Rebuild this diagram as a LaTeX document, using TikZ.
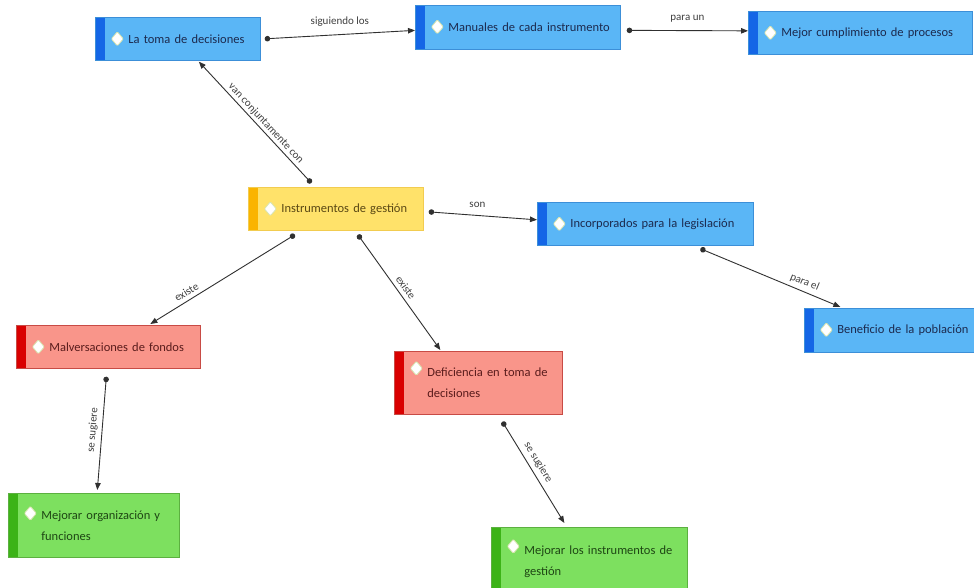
\documentclass[tikz,border=0pt]{standalone}
\usepackage{fontspec}
\setmainfont{Carlito}
\usetikzlibrary{arrows.meta,calc}
\definecolor{bfill}{HTML}{5AB6F6}
\definecolor{bstrip}{HTML}{1466E6}
\definecolor{bline}{HTML}{3C8FD8}
\definecolor{btxt}{HTML}{1C2A4E}
\definecolor{yfill}{HTML}{FFE26A}
\definecolor{ystrip}{HTML}{FAB400}
\definecolor{yline}{HTML}{F2CC50}
\definecolor{ytxt}{HTML}{5A4814}
\definecolor{rfill}{HTML}{F9958A}
\definecolor{rstrip}{HTML}{D90000}
\definecolor{rline}{HTML}{C84B45}
\definecolor{rtxt}{HTML}{5A1C1C}
\definecolor{gfill}{HTML}{7DE05F}
\definecolor{gstrip}{HTML}{3CB317}
\definecolor{gline}{HTML}{5CB040}
\definecolor{gtxt}{HTML}{1E4614}
\definecolor{dline}{HTML}{D8E4B0}
\definecolor{conn}{HTML}{303030}
\definecolor{ltxt}{HTML}{404040}
\begin{document}
\begin{tikzpicture}[x=1pt,y=-1pt,
  cbox/.style n args={5}{rectangle, anchor=north west, draw=#3, line width=0.7pt, fill=#1,
    inner xsep=3pt, inner ysep=0pt, align=left, text=#5,
    font=\fontsize{12.5}{21}\selectfont,
    execute at begin node={\leftskip=30pt\relax\hyphenpenalty=10000\relax},
    path picture={
      \fill[#2] (path picture bounding box.north west) rectangle ($(path picture bounding box.south west)+(10,0)$);
      \filldraw[draw=dline, fill=white, line width=0.8pt, rounded corners=1pt] ($(path picture bounding box.north west)+(22,#4)$) ++(-6,0) -- ++(6,-7) -- ++(6,7) -- ++(-6,7) -- cycle;}},
  bluebox/.style={cbox={bfill}{bstrip}{bline}{#1}{btxt}}, bluebox/.default=21.5,
  yellowbox/.style={cbox={yfill}{ystrip}{yline}{#1}{ytxt}}, yellowbox/.default=21.5,
  redbox/.style={cbox={rfill}{rstrip}{rline}{#1}{rtxt}}, redbox/.default=21.5,
  greenbox/.style={cbox={gfill}{gstrip}{gline}{#1}{gtxt}}, greenbox/.default=21.5,
  link/.style={draw=conn, line width=0.9pt, {Circle[length=5.5pt]}-{Triangle[length=7pt,width=5.5pt]}},
  lbl/.style={font=\fontsize{11}{12}\selectfont, text=ltxt, inner sep=2pt}
]
\useasboundingbox[fill=white] (0,0) rectangle (974,588);

\node[bluebox, minimum width=165, minimum height=43, text width=159] (toma) at (95,17) {La toma de decisiones};
\node[bluebox, minimum width=205, minimum height=44, text width=199] (man) at (415,5) {Manuales de cada instrumento};
\node[bluebox, minimum width=224, minimum height=43, text width=218] (mejor) at (748,11) {Mejor cumplimiento de procesos};
\node[yellowbox, minimum width=175, minimum height=43, text width=169] (inst) at (248,187) {Instrumentos de gestión};
\node[bluebox, minimum width=216, minimum height=43, text width=210] (inc) at (537,202) {Incorporados para la legislación};
\node[bluebox, minimum width=172, minimum height=44, text width=166] (ben) at (804,308) {Beneficio de la población};
\node[redbox, minimum width=184, minimum height=43, text width=178] (malv) at (16,325) {Malversaciones de fondos};
\node[redbox=17, minimum width=168, minimum height=63, text width=162] (def) at (394,351) {Deficiencia en toma de\\decisiones};
\node[greenbox=20, minimum width=171, minimum height=64, text width=165] (mejorg) at (8,493) {Mejorar organización y\\funciones};
\node[greenbox=19, minimum width=196, minimum height=68, text width=190] (mejlos) at (491,527) {Mejorar los instrumentos de\\gestión};

\draw[link] ($(toma.east)+(4,0)$) -- node[lbl, above=6pt]{siguiendo los} ($(man.west)+(0,3)$);
\draw[link] ($(man.east)+(6,3)$) -- node[lbl, above=6pt]{para un} ($(mejor.west)+(0,-2)$);
\draw[link] ($(inst.north)+(-24.5,-4)$) -- node[lbl, sloped, above, pos=0.45]{van conjuntamente con} ($(toma.south)+(21,1)$);
\draw[link] ($(inst.east)+(5,3)$) -- node[lbl, above=5pt, pos=0.45]{son} ($(inc.west)+(0,-4)$);
\draw[link] ($(inst.south)+(-41,4)$) -- node[lbl, sloped, above=2pt, pos=0.72]{existe} ($(malv.north)+(42,-1)$);
\draw[link] ($(inst.south)+(22,4)$) -- node[lbl, sloped, above=2pt, pos=0.5]{existe} ($(def.north)+(-38,-1)$);
\draw[link] ($(inc.south)+(55,3)$) -- node[lbl, sloped, above=2pt, pos=0.72]{para el} ($(ben.north)+(-50,-1)$);
\draw[link] ($(malv.south)+(-2,8)$) -- node[lbl, sloped, above=2pt, pos=0.48]{se sugiere} ($(mejorg.north)+(3.5,-3)$);
\draw[link] ($(def.south)+(24,7)$) -- node[lbl, sloped, above=2pt, pos=0.45]{se sugiere} ($(mejlos.north)+(-25,-4)$);
\end{tikzpicture}
\end{document}
